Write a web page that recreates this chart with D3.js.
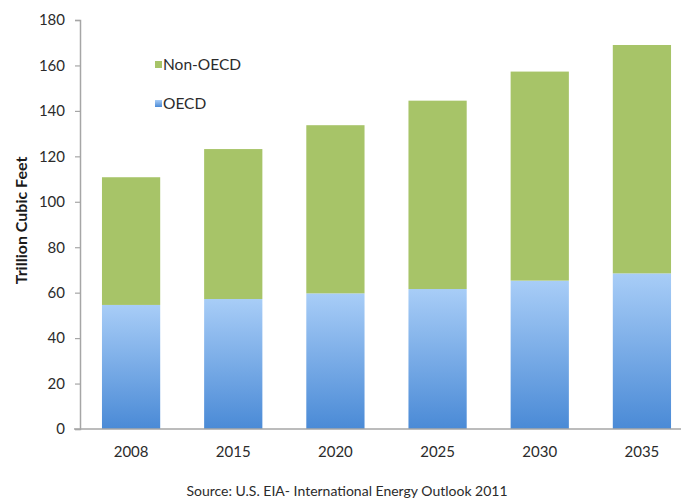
<!DOCTYPE html>
<html>
<head>
<meta charset="utf-8">
<script src="https://cdn.jsdelivr.net/npm/d3@7"></script>
<style>
  html, body { margin: 0; padding: 0; background: #fff; }
  svg { display: block; font-family: Lato, "Open Sans", sans-serif; }
</style>
</head>
<body>
<svg id="chart" width="681" height="500"></svg>
<script>
// Natural gas consumption by region, trillion cubic feet
const years = ["2008", "2015", "2020", "2025", "2030", "2035"];
const oecd = [54.6, 57.2, 59.7, 61.6, 65.3, 68.5];
const nonOecd = [56.2, 66.0, 74.0, 82.9, 92.0, 100.5];
const yTicks = [0, 20, 40, 60, 80, 100, 120, 140, 160, 180];
const seriesNames = ["Non-OECD", "OECD"];

const svg = d3.select("#chart");
const plotLeft = 80, plotRight = 693, plotTop = 20, plotBottom = 429;

const x = d3.scaleBand().domain(years).range([plotLeft, plotRight])
  .paddingInner(0.43).paddingOuter(0.215);
const y = d3.scaleLinear().domain([0, 180]).range([plotBottom, plotTop]);

// Vertical gradient for the OECD segments
const defs = svg.append("defs");
const grad = defs.append("linearGradient").attr("id", "oecdGrad")
  .attr("x1", 0).attr("y1", 0).attr("x2", 0).attr("y2", 1);
grad.append("stop").attr("offset", "0%").attr("stop-color", "#a8cdf7");
grad.append("stop").attr("offset", "100%").attr("stop-color", "#4a8ad6");

const green = "#a7c468";

const rows = years.map((yr, i) => ({ year: yr, oecd: oecd[i], non: nonOecd[i] }));

// Bars
const g = svg.append("g");
g.selectAll("rect.oecd").data(rows).join("rect")
  .attr("class", "oecd")
  .attr("x", d => x(d.year))
  .attr("width", x.bandwidth())
  .attr("y", d => y(d.oecd))
  .attr("height", d => y(0) - y(d.oecd))
  .attr("fill", "url(#oecdGrad)");
g.selectAll("rect.non").data(rows).join("rect")
  .attr("class", "non")
  .attr("x", d => x(d.year))
  .attr("width", x.bandwidth())
  .attr("y", d => y(d.oecd + d.non))
  .attr("height", d => y(d.oecd) - y(d.oecd + d.non))
  .attr("fill", green);

// Y axis
const yAxis = svg.append("g").attr("transform", `translate(${plotLeft},0)`)
  .call(d3.axisLeft(y).tickValues(yTicks).tickSize(5).tickPadding(10));
yAxis.select(".domain").attr("stroke", "#a6a6a6").attr("stroke-width", 1.5);
yAxis.selectAll(".tick line").attr("stroke", "#a6a6a6").attr("stroke-width", 1.2);
yAxis.selectAll(".tick text").attr("fill", "#2b2b2b")
  .style("font-size", "15px").style("font-family", "Lato, sans-serif");

// X axis
const xAxis = svg.append("g").attr("transform", `translate(0,${plotBottom})`)
  .call(d3.axisBottom(x).tickSize(0).tickPadding(17));
xAxis.select(".domain").attr("stroke", "#a6a6a6").attr("stroke-width", 1.5)
  .attr("d", `M${plotLeft - 6},0H${plotRight}`);
xAxis.selectAll(".tick text").attr("fill", "#2b2b2b")
  .style("font-size", "15px").style("font-family", "Lato, sans-serif");

// Y axis title
svg.append("text")
  .attr("transform", `translate(27,${(150 + 291) / 2}) rotate(-90)`)
  .attr("text-anchor", "middle")
  .attr("fill", "#1a1a1a")
  .style("font-size", "16px").style("font-weight", "bold")
  .text("Trillion Cubic Feet");

// Legend
const legendY = [65, 104];
const legendColors = [green, "url(#oecdGrad)"];
seriesNames.forEach((name, i) => {
  svg.append("rect").attr("x", 155).attr("y", legendY[i] - 4)
    .attr("width", 7).attr("height", 7).attr("fill", legendColors[i]);
  svg.append("text").attr("x", 163).attr("y", legendY[i]).attr("dy", "0.35em")
    .attr("fill", "#2b2b2b").style("font-size", "15.5px")
    .text(name);
});

// Source note
svg.append("text")
  .attr("x", 347).attr("y", 491).attr("dy", "0.35em")
  .attr("text-anchor", "middle")
  .attr("fill", "#2b2b2b").style("font-size", "14px")
  .text("Source: U.S. EIA- International Energy Outlook 2011");
</script>
</body>
</html>
